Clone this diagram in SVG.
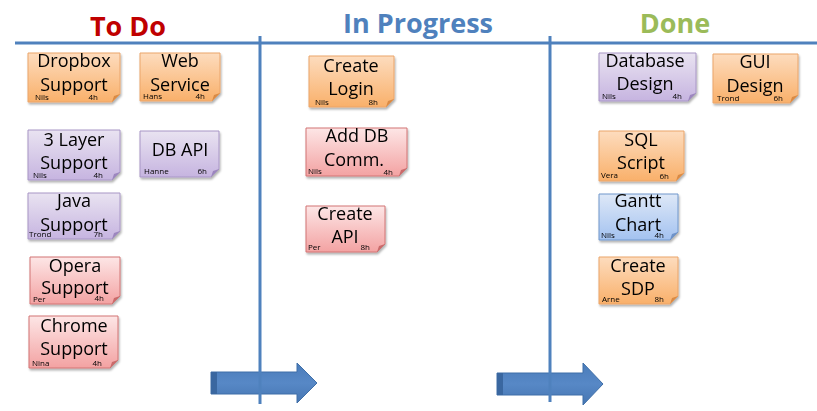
<svg xmlns="http://www.w3.org/2000/svg" width="817" height="411" viewBox="0 0 817 411">
<defs>
<linearGradient id="gOr" x1="0" y1="0" x2="0" y2="1"><stop offset="0" stop-color="#FDDCBE"/><stop offset="1" stop-color="#F9B06A"/></linearGradient>
<linearGradient id="gPu" x1="0" y1="0" x2="0" y2="1"><stop offset="0" stop-color="#E9E3F1"/><stop offset="1" stop-color="#C6B4E0"/></linearGradient>
<linearGradient id="gPk" x1="0" y1="0" x2="0" y2="1"><stop offset="0" stop-color="#FDE6E6"/><stop offset="1" stop-color="#F3A2A2"/></linearGradient>
<linearGradient id="gBl" x1="0" y1="0" x2="0" y2="1"><stop offset="0" stop-color="#DEE8F7"/><stop offset="1" stop-color="#A3C2F0"/></linearGradient>
<linearGradient id="gAr" x1="0" y1="0" x2="0" y2="1"><stop offset="0" stop-color="#4A7CBA"/><stop offset="0.5" stop-color="#5788C6"/><stop offset="1" stop-color="#4676B2"/></linearGradient>
<filter id="sh" x="-10%" y="-10%" width="125%" height="130%"><feDropShadow dx="1" dy="2" stdDeviation="1.2" flood-color="#000" flood-opacity="0.3"/></filter>
</defs>
<style>
.card{filter:url(#sh)}
.or{fill:url(#gOr);stroke:#EBA56A;stroke-width:1}
.pu{fill:url(#gPu);stroke:#A896C6;stroke-width:1}
.pk{fill:url(#gPk);stroke:#D27474;stroke-width:1}
.bl{fill:url(#gBl);stroke:#7098CC;stroke-width:1}
.fo{fill:#D98A45}.fp{fill:#9C86BE}.fk{fill:#C96A6A}.fb{fill:#6E92C8}
.t{font-family:"Open Sans","Liberation Sans",sans-serif;font-size:18px;fill:#000;text-anchor:middle}
.s{font-family:"Open Sans","Liberation Sans",sans-serif;font-size:8px;fill:#000}
.h{text-anchor:end}
.title{font-family:"Open Sans","Liberation Sans",sans-serif;font-size:27px;font-weight:bold;text-anchor:middle}
.ln{stroke:#4F81BD;stroke-width:3;fill:none}
.arrow{fill:url(#gAr);stroke:#3F6FA8;stroke-width:1}
</style>
<rect width="817" height="411" fill="#fff"/>

<g id="titles">
<text class="title" x="128" y="36" fill="#C00000">To Do</text>
<text class="title" x="418" y="33" fill="#4F81BD">In Progress</text>
<text class="title" x="675" y="33" fill="#9BBB59">Done</text>
</g>

<g id="connectors">
<path class="arrow" d="M211 372 H297 V363 L317 383 L297 403 V394 H211 Z"/>
<rect x="211" y="372" width="6" height="22" fill="#3A67A0"/>
<path class="arrow" d="M497 373 H583 V363 L603 384 L583 405 V395 H497 Z"/>
<rect x="497" y="373" width="6" height="22" fill="#3A67A0"/>
<line class="ln" x1="15" y1="43" x2="817" y2="43"/>
<line class="ln" x1="260" y1="36" x2="260" y2="404"/>
<line class="ln" x1="550" y1="36" x2="550" y2="402"/>
</g>

<g id="dropbox" class="card">
<path class="or" d="M28 53 H120 V94 L112 102 H28 Z"/><path class="fo" d="M112 102 L114 96 L120 94 Z"/>
<text class="t" x="74" y="67">Dropbox</text><text class="t" x="74" y="91">Support</text>
<text class="s" x="35" y="100">Nils</text><text class="s h" x="98" y="100">4h</text>
</g>
<g id="websvc" class="card">
<path class="or" d="M140 53 H220 V93 L212 101 H140 Z"/><path class="fo" d="M212 101 L214 95 L220 93 Z"/>
<text class="t" x="180" y="67">Web</text><text class="t" x="180" y="91">Service</text>
<text class="s" x="143" y="99">Hans</text><text class="s h" x="205" y="99">4h</text>
</g>
<g id="layer3" class="card">
<path class="pu" d="M28 130 H120 V172 L112 180 H28 Z"/><path class="fp" d="M112 180 L114 174 L120 172 Z"/>
<text class="t" x="74" y="146">3 Layer</text><text class="t" x="74" y="169">Support</text>
<text class="s" x="33" y="178">Nils</text><text class="s h" x="103" y="178">4h</text>
</g>
<g id="dbapi" class="card">
<path class="pu" d="M140 131 H219 V169 L211 177 H140 Z"/><path class="fp" d="M211 177 L213 171 L219 169 Z"/>
<text class="t" x="180" y="156">DB API</text>
<text class="s" x="144" y="174">Hanne</text><text class="s h" x="207" y="174">6h</text>
</g>
<g id="java" class="card">
<path class="pu" d="M28 193 H120 V231 L112 239 H28 Z"/><path class="fp" d="M112 239 L114 233 L120 231 Z"/>
<text class="t" x="74" y="207">Java</text><text class="t" x="74" y="231">Support</text>
<text class="s" x="29" y="237">Trond</text><text class="s h" x="103" y="237">7h</text>
</g>
<g id="opera" class="card">
<path class="pk" d="M30 257 H120 V296 L112 304 H30 Z"/><path class="fk" d="M112 304 L114 298 L120 296 Z"/>
<text class="t" x="75" y="272">Opera</text><text class="t" x="75" y="294">Support</text>
<text class="s" x="33" y="302">Per</text><text class="s h" x="104" y="301">4h</text>
</g>
<g id="chrome" class="card">
<path class="pk" d="M29 316 H118 V360 L110 368 H29 Z"/><path class="fk" d="M110 368 L112 362 L118 360 Z"/>
<text class="t" x="74" y="332">Chrome</text><text class="t" x="74" y="355">Support</text>
<text class="s" x="32" y="366">Nina</text><text class="s h" x="102" y="366">4h</text>
</g>

<g id="login" class="card">
<path class="or" d="M309 56 H394 V99 L386 107 H309 Z"/><path class="fo" d="M386 107 L388 101 L394 99 Z"/>
<text class="t" x="351" y="72">Create</text><text class="t" x="351" y="95">Login</text>
<text class="s" x="315" y="105">Nils</text><text class="s h" x="378" y="105">8h</text>
</g>
<g id="adddb" class="card">
<path class="pk" d="M306 128 H407 V168 L399 176 H306 Z"/><path class="fk" d="M399 176 L401 170 L407 168 Z"/>
<text class="t" x="357" y="142">Add DB</text><text class="t" x="354" y="166">Comm.</text>
<text class="s" x="308" y="174">Nils</text><text class="s h" x="393" y="175">4h</text>
</g>
<g id="createapi" class="card">
<path class="pk" d="M306 206 H385 V244 L377 252 H306 Z"/><path class="fk" d="M377 252 L379 246 L385 244 Z"/>
<text class="t" x="345" y="220">Create</text><text class="t" x="345" y="243">API</text>
<text class="s" x="308" y="250">Per</text><text class="s h" x="370" y="250">8h</text>
</g>

<g id="dbdesign" class="card">
<path class="pu" d="M599 53 H696 V93 L688 101 H599 Z"/><path class="fp" d="M688 101 L690 95 L696 93 Z"/>
<text class="t" x="645" y="67">Database</text><text class="t" x="645" y="90">Design</text>
<text class="s" x="602" y="99">Nils</text><text class="s h" x="682" y="99">4h</text>
</g>
<g id="guidesign" class="card">
<path class="or" d="M713 54 H798 V95 L790 103 H713 Z"/><path class="fo" d="M790 103 L792 97 L798 95 Z"/>
<text class="t" x="755" y="68">GUI</text><text class="t" x="755" y="92">Design</text>
<text class="s" x="717" y="101">Trond</text><text class="s h" x="783" y="101">6h</text>
</g>
<g id="sql" class="card">
<path class="or" d="M599 131 H684 V173 L676 181 H599 Z"/><path class="fo" d="M676 181 L678 175 L684 173 Z"/>
<text class="t" x="641" y="146">SQL</text><text class="t" x="641" y="169">Script</text>
<text class="s" x="601" y="178">Vera</text><text class="s h" x="669" y="179">6h</text>
</g>
<g id="gantt" class="card">
<path class="bl" d="M599 194 H678 V232 L670 240 H599 Z"/><path class="fb" d="M670 240 L672 234 L678 232 Z"/>
<text class="t" x="638" y="207">Gantt</text><text class="t" x="638" y="231">Chart</text>
<text class="s" x="601" y="238">Nils</text><text class="s h" x="664" y="238">4h</text>
</g>
<g id="sdp" class="card">
<path class="or" d="M599 257 H678 V296 L670 304 H599 Z"/><path class="fo" d="M670 304 L672 298 L678 296 Z"/>
<text class="t" x="638" y="272">Create</text><text class="t" x="638" y="295">SDP</text>
<text class="s" x="602" y="302">Arne</text><text class="s h" x="664" y="302">8h</text>
</g>
</svg>
